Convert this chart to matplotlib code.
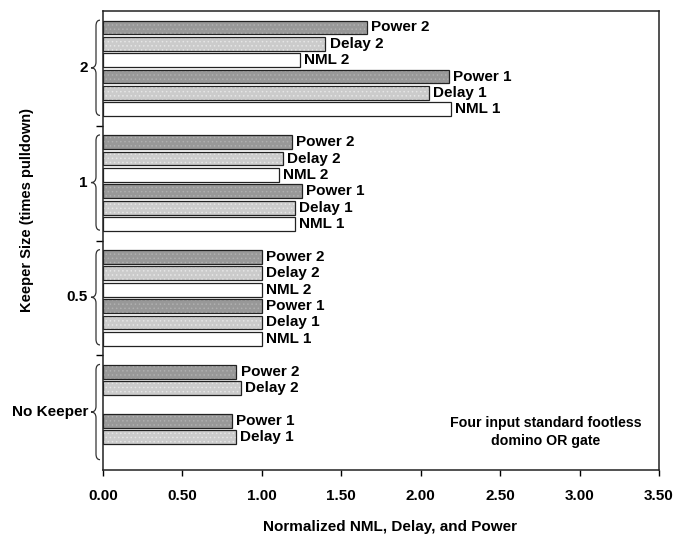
import numpy as np
import matplotlib
matplotlib.use('Agg')
import matplotlib.pyplot as plt
from matplotlib.path import Path
from matplotlib.patches import PathPatch
from matplotlib.transforms import blended_transform_factory

plt.rcParams['font.family'] = ['Liberation Sans', 'DejaVu Sans']
plt.rcParams['font.weight'] = 'bold'
plt.rcParams['hatch.linewidth'] = 0.6

# Gruppen von unten nach oben
gruppen = ['No Keeper', '0.5', '1', '2']

# Werte je Serie (None = kein Balken)
power2 = [0.84, 1.00, 1.19, 1.66]
delay2 = [0.87, 1.00, 1.13, 1.40]
nml2 = [None, 1.00, 1.11, 1.24]
power1 = [0.81, 1.00, 1.25, 2.18]
delay1 = [0.835, 1.00, 1.21, 2.05]
nml1 = [None, 1.00, 1.21, 2.19]

serien = [('Power 2', power2), ('Delay 2', delay2), ('NML 2', nml2),
          ('Power 1', power1), ('Delay 1', delay1), ('NML 1', nml1)]
farben = {'Power': '#989898', 'Delay': '#cbcbcb', 'NML': 'white'}
punkte = {'Power': '#b0b0b0', 'Delay': '#e6e6e6', 'NML': 'white'}

fig = plt.figure(figsize=(6.87, 5.42), dpi=100)
ax = fig.add_axes([103/687, 1-470/542, 556/687, 459/542])

for k, (name, werte) in enumerate(serien):
    art = name.split()[0]
    for g, w in enumerate(werte):
        if w is None:
            continue
        y = g + 1 - (k + 1) / 7
        if art != 'NML':
            # Punktraster wie im Original
            ax.barh(y, w, height=0.12, color=farben[art], hatch='....',
                    edgecolor=punkte[art], linewidth=0)
        else:
            ax.barh(y, w, height=0.12, color=farben[art], linewidth=0)
        ax.barh(y, w, height=0.12, fill=False, edgecolor='#222222', linewidth=0.9)
        ax.annotate(name, (w, y), xytext=(3, 0), textcoords='offset points',
                    va='center', ha='left', fontsize=11, fontweight='bold')

ax.set_xlim(0, 3.5)
ax.set_ylim(0, 4)
ax.set_xticks(np.arange(0, 3.51, 0.5))
ax.set_xticklabels(['%.2f' % v for v in np.arange(0, 3.51, 0.5)], fontsize=11, fontweight='bold')
ax.set_yticks([1, 2, 3])
ax.set_yticklabels([])
ax.tick_params(axis='x', direction='out', length=4, pad=10, width=1)
ax.tick_params(axis='y', direction='out', length=5, width=1)
for s in ax.spines.values():
    s.set_linewidth(1.1)
    s.set_color('#222222')

# geschweifte Klammern links der Achse
trans = blended_transform_factory(ax.transAxes, ax.transData)
x_e, x_s, x_t = -3/556, -7/556, -12/556
d = 0.05
for g, label in enumerate(gruppen):
    y_top = g + 0.92
    y_bot = g + 0.09
    y_mid = (y_top + y_bot) / 2
    verts = [(x_e, y_top), (x_s, y_top), (x_s, y_top - d),
             (x_s, y_mid + d), (x_s, y_mid), (x_t, y_mid),
             (x_s, y_mid), (x_s, y_mid - d),
             (x_s, y_bot + d), (x_s, y_bot), (x_e, y_bot)]
    codes = [Path.MOVETO, Path.CURVE3, Path.CURVE3,
             Path.LINETO, Path.CURVE3, Path.CURVE3,
             Path.CURVE3, Path.CURVE3,
             Path.LINETO, Path.CURVE3, Path.CURVE3]
    ax.add_patch(PathPatch(Path(verts, codes), transform=trans, fill=False,
                           edgecolor='#333333', linewidth=0.9, clip_on=False))
    ax.text(-15/556, y_mid, label, transform=trans, ha='right', va='center',
            fontsize=11, fontweight='bold')

fig.text(27/687, 1-210/542, 'Keeper Size (times pulldown)', rotation=90,
         ha='center', va='center', fontsize=10.5, fontweight='bold')
fig.text(390/687, 1-527/542, 'Normalized NML, Delay, and Power',
         ha='center', va='center', fontsize=11, fontweight='bold')
ax.text(546/687, 1-432/542, 'Four input standard footless\ndomino OR gate',
        transform=fig.transFigure, ha='center', va='center', fontsize=10.2,
        fontweight='bold', linespacing=1.35)

fig.savefig('out.png', dpi=100)
